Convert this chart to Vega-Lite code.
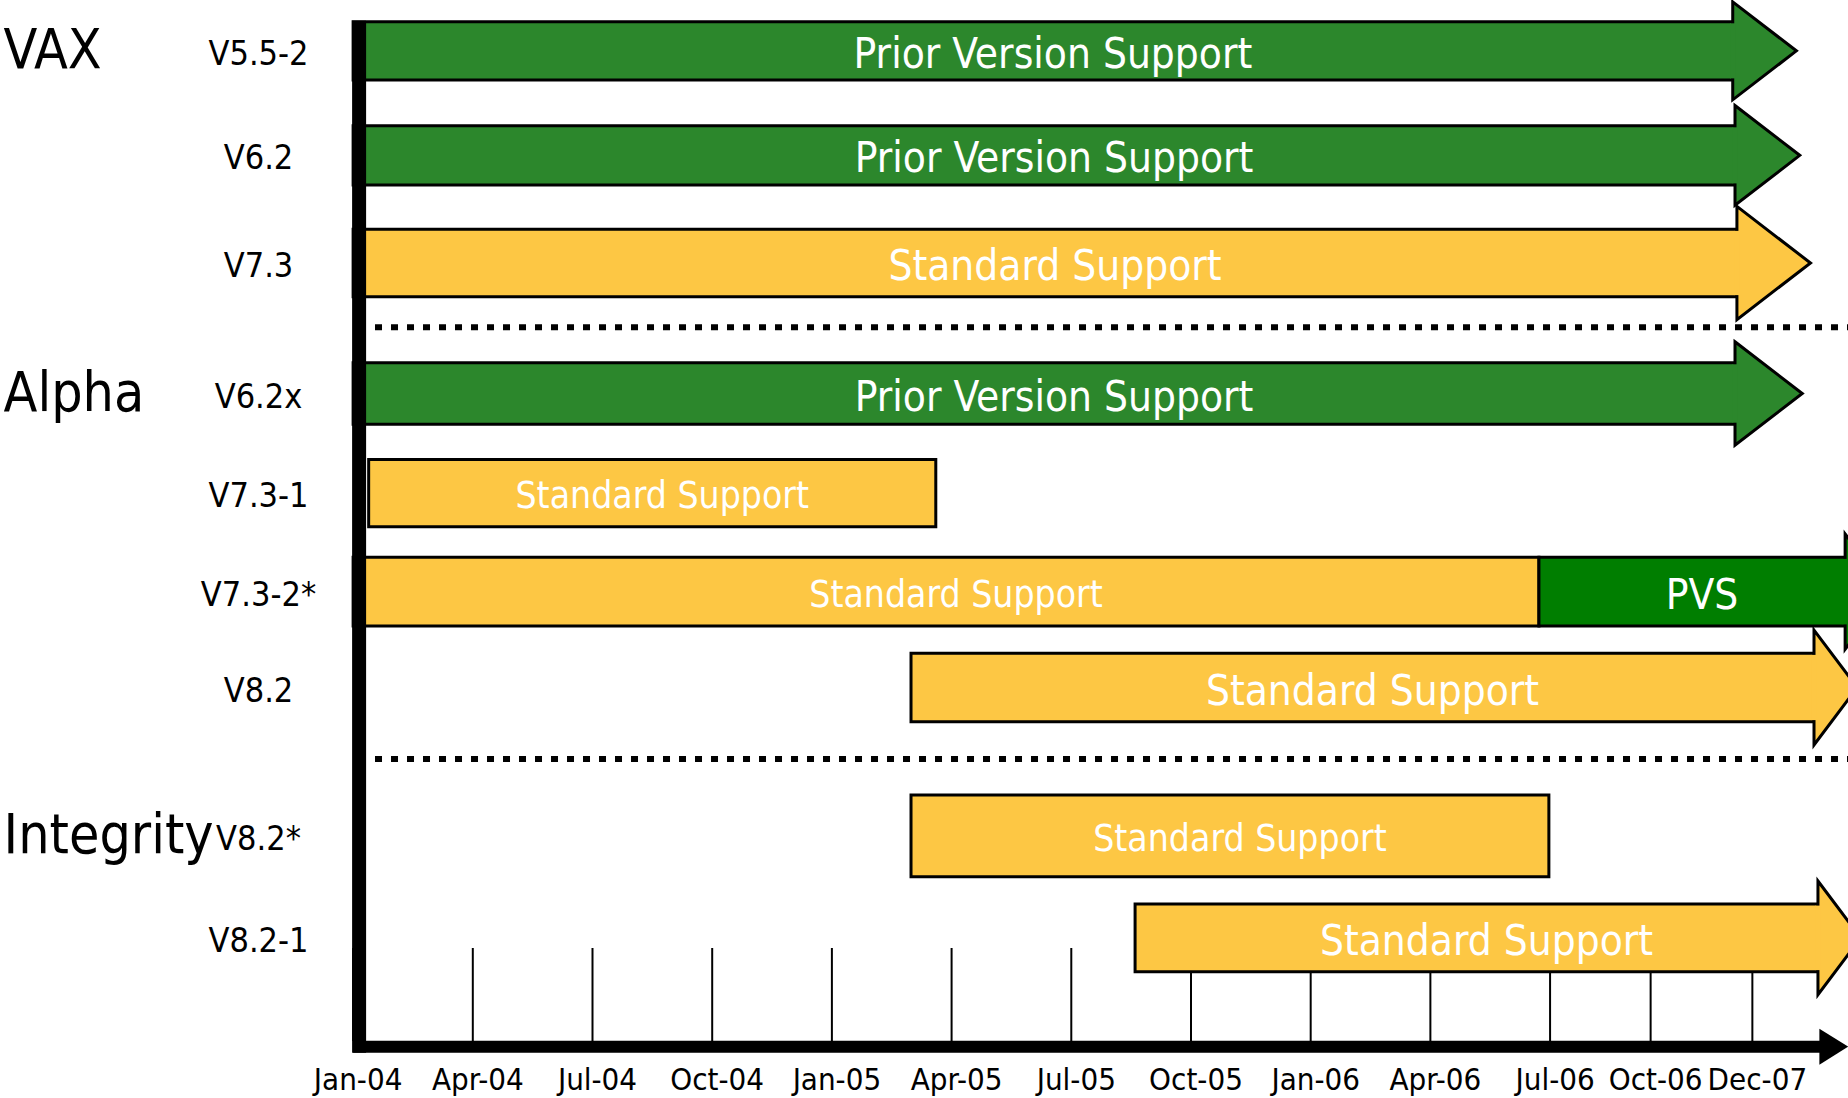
{
  "$schema": "https://vega.github.io/schema/vega-lite/v6.json",
  "width": 1848,
  "height": 1098,
  "autosize": "none",
  "padding": 0,
  "background": "white",
  "config": {"view": {"stroke": null}},
  "datasets": {
    "bars": [
      {"group": "VAX", "first": true, "version": "V5.5-2", "kind": "Prior Version Support", "start": 0, "end": 11.526, "arrow": true, "top": 0.217, "bottom": 0.8},
      {"group": "VAX", "first": false, "version": "V6.2", "kind": "Prior Version Support", "start": 0, "end": 11.545, "arrow": true, "top": 1.257, "bottom": 1.85},
      {"group": "VAX", "first": false, "version": "V7.3", "kind": "Standard Support", "start": 0, "end": 11.561, "arrow": true, "top": 2.293, "bottom": 2.967},
      {"group": "Alpha", "first": true, "version": "V6.2x", "kind": "Prior Version Support", "start": 0, "end": 11.545, "arrow": true, "top": 3.627, "bottom": 4.243},
      {"group": "Alpha", "first": false, "version": "V7.3-1", "kind": "Standard Support", "start": 0.13, "end": 4.868, "arrow": false, "top": 4.596, "bottom": 5.268},
      {"group": "Alpha", "first": false, "version": "V7.3-2*", "kind": "Standard Support", "start": 0, "end": 9.907, "arrow": false, "top": 5.573, "bottom": 6.26},
      {"group": "Alpha", "first": false, "version": "V7.3-2*", "kind": "PVS", "start": 9.907, "end": 12.465, "arrow": true, "top": 5.573, "bottom": 6.26},
      {"group": "Alpha", "first": false, "version": "V8.2", "kind": "Standard Support", "start": 4.661, "end": 12.205, "arrow": true, "top": 6.533, "bottom": 7.217},
      {"group": "Integrity", "first": true, "version": "V8.2*", "kind": "Standard Support", "start": 4.661, "end": 9.99, "arrow": false, "top": 7.95, "bottom": 8.767},
      {"group": "Integrity", "first": false, "version": "V8.2-1", "kind": "Standard Support", "start": 6.533, "end": 12.238, "arrow": true, "top": 9.04, "bottom": 9.717}
    ],
    "ticks": [
      {"label": "Jan-04", "q": 0},
      {"label": "Apr-04", "q": 1},
      {"label": "Jul-04", "q": 2},
      {"label": "Oct-04", "q": 3},
      {"label": "Jan-05", "q": 4},
      {"label": "Apr-05", "q": 5},
      {"label": "Jul-05", "q": 6},
      {"label": "Oct-05", "q": 7},
      {"label": "Jan-06", "q": 8},
      {"label": "Apr-06", "q": 9},
      {"label": "Jul-06", "q": 10},
      {"label": "Oct-06", "q": 10.84},
      {"label": "Dec-07", "q": 11.69}
    ],
    "dividers": [
      {"from": 0.183, "to": 12.6, "y": 3.273},
      {"from": 0.183, "to": 12.6, "y": 7.59}
    ]
  },
  "layer": [
    {
      "data": {"name": "ticks"},
      "mark": {"type": "rule", "color": "black", "strokeWidth": 2},
      "encoding": {
        "x": {"field": "q", "type": "quantitative", "scale": {"domain": [-2.95, 12.489], "nice": false, "zero": false}, "axis": null},
        "y": {"datum": 9.48, "type": "quantitative", "scale": {"domain": [0, 10.98], "reverse": true, "nice": false, "zero": false}, "axis": null},
        "y2": {"datum": 10.41}
      }
    },
    {
      "data": {"name": "dividers"},
      "mark": {"type": "rule", "color": "black", "strokeWidth": 6, "strokeDash": [7, 9]},
      "encoding": {
        "x": {"field": "from", "type": "quantitative", "scale": {"domain": [-2.95, 12.489], "nice": false, "zero": false}, "axis": null},
        "x2": {"field": "to"},
        "y": {"field": "y", "type": "quantitative", "scale": {"domain": [0, 10.98], "reverse": true, "nice": false, "zero": false}, "axis": null}
      }
    },
    {
      "data": {"name": "bars"},
      "mark": {"type": "rect", "stroke": "black", "strokeWidth": 3},
      "encoding": {
        "x": {"field": "start", "type": "quantitative", "scale": {"domain": [-2.95, 12.489], "nice": false, "zero": false}, "axis": null},
        "x2": {"field": "end"},
        "y": {"field": "top", "type": "quantitative", "scale": {"domain": [0, 10.98], "reverse": true, "nice": false, "zero": false}, "axis": null},
        "y2": {"field": "bottom"},
        "fill": {"field": "kind", "type": "nominal", "scale": {"domain": ["Prior Version Support", "Standard Support", "PVS"], "range": ["#2C872C", "#FDC744", "#007E00"]}, "legend": null}
      }
    },
    {
      "data": {"name": "bars"},
      "transform": [
        {"filter": "datum.arrow && datum.end < 12"},
        {"calculate": "(datum.top + datum.bottom) / 2", "as": "mid"},
        {"calculate": "datum.bottom - datum.top", "as": "t"}
      ],
      "mark": {"type": "point", "shape": "M 0 -1 L 1.3 0 L 0 1 Z", "filled": true, "opacity": 1, "stroke": "black", "strokeWidth": 3, "strokeJoin": "miter"},
      "encoding": {
        "x": {"field": "end", "type": "quantitative", "scale": {"domain": [-2.95, 12.489], "nice": false, "zero": false}, "axis": null},
        "y": {"field": "mid", "type": "quantitative", "scale": {"domain": [0, 10.98], "reverse": true, "nice": false, "zero": false}, "axis": null},
        "size": {"field": "t", "type": "quantitative", "scale": {"type": "pow", "exponent": 2, "domain": [0, 1], "range": [0, 28224]}, "legend": null},
        "fill": {"field": "kind", "type": "nominal", "scale": {"domain": ["Prior Version Support", "Standard Support", "PVS"], "range": ["#2C872C", "#FDC744", "#007E00"]}, "legend": null}
      }
    },
    {
      "data": {"name": "bars"},
      "transform": [
        {"filter": "datum.arrow && datum.end >= 12"},
        {"calculate": "(datum.top + datum.bottom) / 2", "as": "mid"},
        {"calculate": "datum.bottom - datum.top", "as": "t"}
      ],
      "mark": {"type": "point", "shape": "M 0 -1 L 0.75 0 L 0 1 Z", "filled": true, "opacity": 1, "stroke": "black", "strokeWidth": 3, "strokeJoin": "miter"},
      "encoding": {
        "x": {"field": "end", "type": "quantitative", "scale": {"domain": [-2.95, 12.489], "nice": false, "zero": false}, "axis": null},
        "y": {"field": "mid", "type": "quantitative", "scale": {"domain": [0, 10.98], "reverse": true, "nice": false, "zero": false}, "axis": null},
        "size": {"field": "t", "type": "quantitative", "scale": {"type": "pow", "exponent": 2, "domain": [0, 1], "range": [0, 28224]}, "legend": null},
        "fill": {"field": "kind", "type": "nominal", "scale": {"domain": ["Prior Version Support", "Standard Support", "PVS"], "range": ["#2C872C", "#FDC744", "#007E00"]}, "legend": null}
      }
    },
    {
      "data": {"name": "bars"},
      "transform": [{"filter": "datum.arrow"}],
      "mark": {"type": "rect", "xOffset": -2.5, "x2Offset": 2.5, "yOffset": 1.6, "y2Offset": -1.6},
      "encoding": {
        "x": {"field": "end", "type": "quantitative", "scale": {"domain": [-2.95, 12.489], "nice": false, "zero": false}, "axis": null},
        "x2": {"field": "end"},
        "y": {"field": "top", "type": "quantitative", "scale": {"domain": [0, 10.98], "reverse": true, "nice": false, "zero": false}, "axis": null},
        "y2": {"field": "bottom"},
        "fill": {"field": "kind", "type": "nominal", "scale": {"domain": ["Prior Version Support", "Standard Support", "PVS"], "range": ["#2C872C", "#FDC744", "#007E00"]}, "legend": null}
      }
    },
    {
      "data": {"name": "bars"},
      "transform": [
        {"calculate": "(datum.top + datum.bottom) / 2", "as": "mid"},
        {"calculate": "(datum.start + datum.end) / 2", "as": "xmid"}
      ],
      "mark": {"type": "text", "color": "white", "font": "DejaVu Sans Condensed, sans-serif", "baseline": "middle", "align": "center", "dx": 10, "dy": 4},
      "encoding": {
        "x": {"field": "xmid", "type": "quantitative", "scale": {"domain": [-2.95, 12.489], "nice": false, "zero": false}, "axis": null},
        "y": {"field": "mid", "type": "quantitative", "scale": {"domain": [0, 10.98], "reverse": true, "nice": false, "zero": false}, "axis": null},
        "text": {"field": "kind"},
        "size": {"condition": {"test": "datum.arrow", "value": 42}, "value": 37}
      }
    },
    {
      "data": {"name": "bars"},
      "transform": [
        {"filter": "datum.kind != 'PVS'"},
        {"calculate": "(datum.top + datum.bottom) / 2", "as": "mid"}
      ],
      "mark": {"type": "text", "color": "black", "font": "DejaVu Sans Condensed, sans-serif", "fontSize": 34, "baseline": "middle", "align": "center", "dy": 4},
      "encoding": {
        "x": {"datum": -0.79, "type": "quantitative", "scale": {"domain": [-2.95, 12.489], "nice": false, "zero": false}, "axis": null},
        "y": {"field": "mid", "type": "quantitative", "scale": {"domain": [0, 10.98], "reverse": true, "nice": false, "zero": false}, "axis": null},
        "text": {"field": "version"}
      }
    },
    {
      "data": {"name": "bars"},
      "transform": [
        {"filter": "datum.first"},
        {"calculate": "(datum.top + datum.bottom) / 2", "as": "mid"}
      ],
      "mark": {"type": "text", "color": "black", "font": "DejaVu Sans Condensed, sans-serif", "fontSize": 55, "baseline": "middle", "align": "left", "dy": 0},
      "encoding": {
        "x": {"datum": -2.92, "type": "quantitative", "scale": {"domain": [-2.95, 12.489], "nice": false, "zero": false}, "axis": null},
        "y": {"field": "mid", "type": "quantitative", "scale": {"domain": [0, 10.98], "reverse": true, "nice": false, "zero": false}, "axis": null},
        "text": {"field": "group"}
      }
    },
    {
      "data": {"values": [{}]},
      "mark": {"type": "rule", "color": "black", "strokeWidth": 14, "xOffset": 6},
      "encoding": {
        "x": {"datum": 0, "type": "quantitative", "scale": {"domain": [-2.95, 12.489], "nice": false, "zero": false}, "axis": null},
        "y": {"datum": 0.207, "type": "quantitative", "scale": {"domain": [0, 10.98], "reverse": true, "nice": false, "zero": false}, "axis": null},
        "y2": {"datum": 10.527}
      }
    },
    {
      "data": {"values": [{}]},
      "mark": {"type": "rule", "color": "black", "strokeWidth": 12},
      "encoding": {
        "x": {"datum": 0, "type": "quantitative", "scale": {"domain": [-2.95, 12.489], "nice": false, "zero": false}, "axis": null},
        "x2": {"datum": 12.27},
        "y": {"datum": 10.467, "type": "quantitative", "scale": {"domain": [0, 10.98], "reverse": true, "nice": false, "zero": false}, "axis": null}
      }
    },
    {
      "data": {"values": [{}]},
      "mark": {"type": "point", "shape": "M 0 -1 L 1.6 0 L 0 1 Z", "filled": true, "opacity": 1, "color": "black", "size": 1296},
      "encoding": {
        "x": {"datum": 12.25, "type": "quantitative", "scale": {"domain": [-2.95, 12.489], "nice": false, "zero": false}, "axis": null},
        "y": {"datum": 10.467, "type": "quantitative", "scale": {"domain": [0, 10.98], "reverse": true, "nice": false, "zero": false}, "axis": null}
      }
    },
    {
      "data": {"name": "ticks"},
      "mark": {"type": "text", "color": "black", "font": "DejaVu Sans Condensed, sans-serif", "fontSize": 31, "baseline": "alphabetic", "align": "center", "dx": 5},
      "encoding": {
        "x": {"field": "q", "type": "quantitative", "scale": {"domain": [-2.95, 12.489], "nice": false, "zero": false}, "axis": null},
        "y": {"datum": 10.9, "type": "quantitative", "scale": {"domain": [0, 10.98], "reverse": true, "nice": false, "zero": false}, "axis": null},
        "text": {"field": "label"}
      }
    }
  ]
}
